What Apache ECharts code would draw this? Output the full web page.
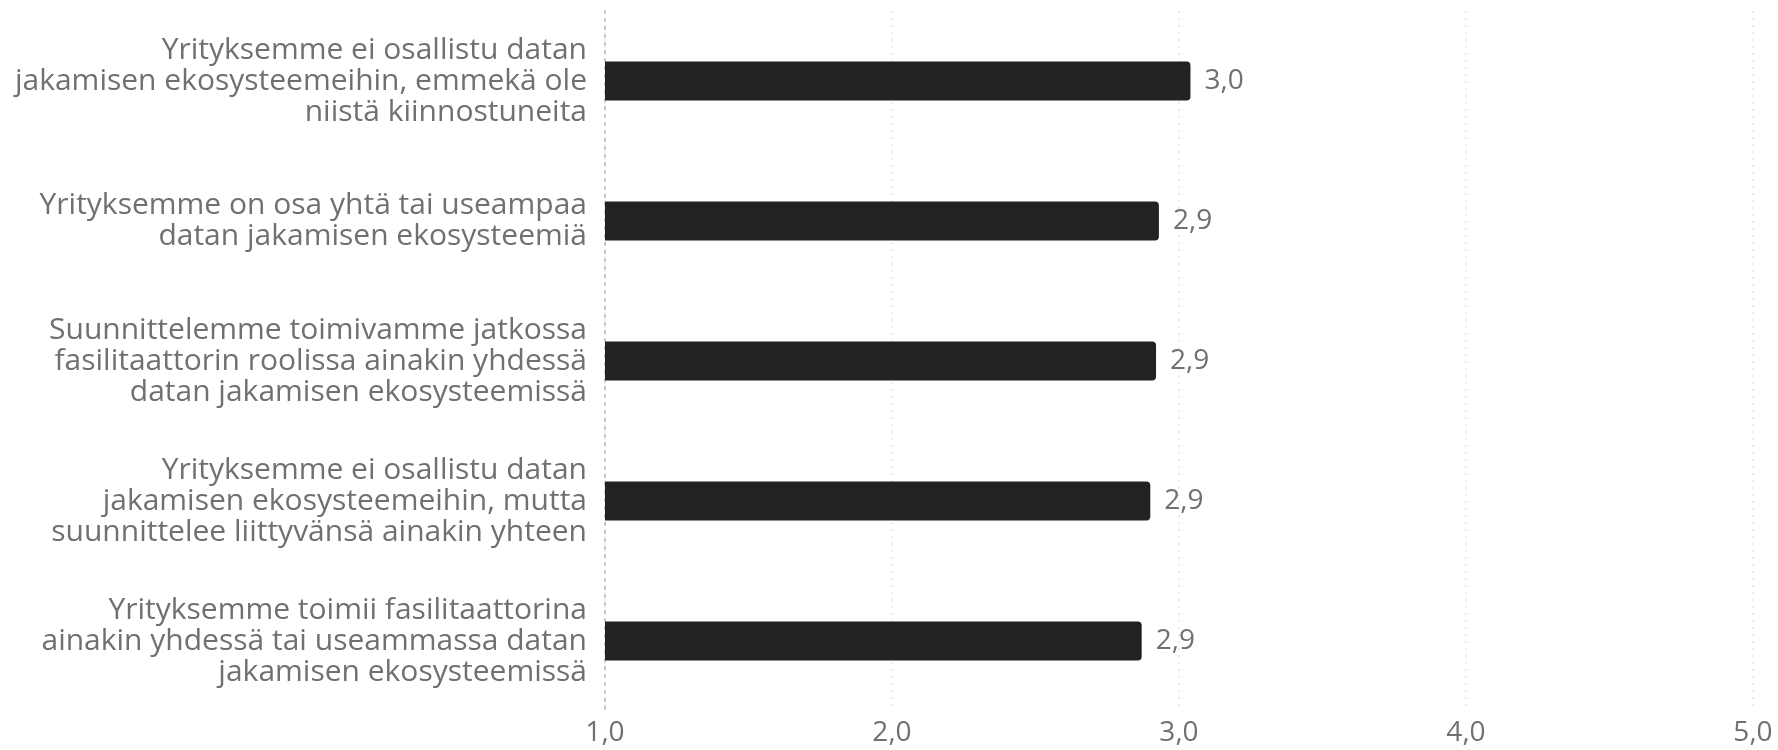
<!DOCTYPE html>
<html>
<head>
<meta charset="utf-8">
<script src="https://cdn.jsdelivr.net/npm/echarts@6/dist/echarts.min.js"></script>
<style>
html,body{margin:0;padding:0;background:#fff;}
#chart{width:1778px;height:750px;}
</style>
</head>
<body>
<div id="chart"></div>
<script>
const categories = [
  "Yrityksemme ei osallistu datan\njakamisen ekosysteemeihin, emmekä ole\nniistä kiinnostuneita",
  "Yrityksemme on osa yhtä tai useampaa\ndatan jakamisen ekosysteemiä",
  "Suunnittelemme toimivamme jatkossa\nfasilitaattorin roolissa ainakin yhdessä\ndatan jakamisen ekosysteemissä",
  "Yrityksemme ei osallistu datan\njakamisen ekosysteemeihin, mutta\nsuunnittelee liittyvänsä ainakin yhteen",
  "Yrityksemme toimii fasilitaattorina\nainakin yhdessä tai useammassa datan\njakamisen ekosysteemissä"
];
const values = [3.04, 2.93, 2.92, 2.90, 2.87];
const xTicks = [1, 2, 3, 4, 5];

const fmt = v => v.toFixed(1).replace('.', ',');
const chart = echarts.init(document.getElementById('chart'));
chart.setOption({
  animation: false,
  textStyle: {fontFamily: 'Open Sans'},
  grid: {left: 605, right: 25, top: 11, bottom: 39, containLabel: false},
  xAxis: {
    type: 'value', min: xTicks[0], max: xTicks[xTicks.length - 1], interval: 1,
    axisLine: {show: false}, axisTick: {show: false},
    axisLabel: {formatter: v => fmt(v), color: '#707070', fontSize: 28, margin: 8, fontFamily: 'Open Sans'},
    splitLine: {show: true, lineStyle: {type: [2, 5], color: '#ececec', width: 2}}
  },
  yAxis: {
    type: 'category', data: categories, inverse: true,
    axisLine: {show: true, lineStyle: {type: [2, 6], color: '#c4c4c4', width: 2}},
    axisTick: {show: false},
    axisLabel: {color: '#707070', fontSize: 30, lineHeight: 31, margin: 18, align: 'right', fontFamily: 'Open Sans'}
  },
  series: [{
    type: 'bar', data: values, barWidth: 39,
    itemStyle: {color: '#222222', borderRadius: [0, 4, 4, 0]},
    label: {show: true, position: 'right', distance: 14, formatter: p => fmt(p.value), color: '#707070', fontSize: 28, fontFamily: 'Open Sans'}
  }]
});
</script>
</body>
</html>
